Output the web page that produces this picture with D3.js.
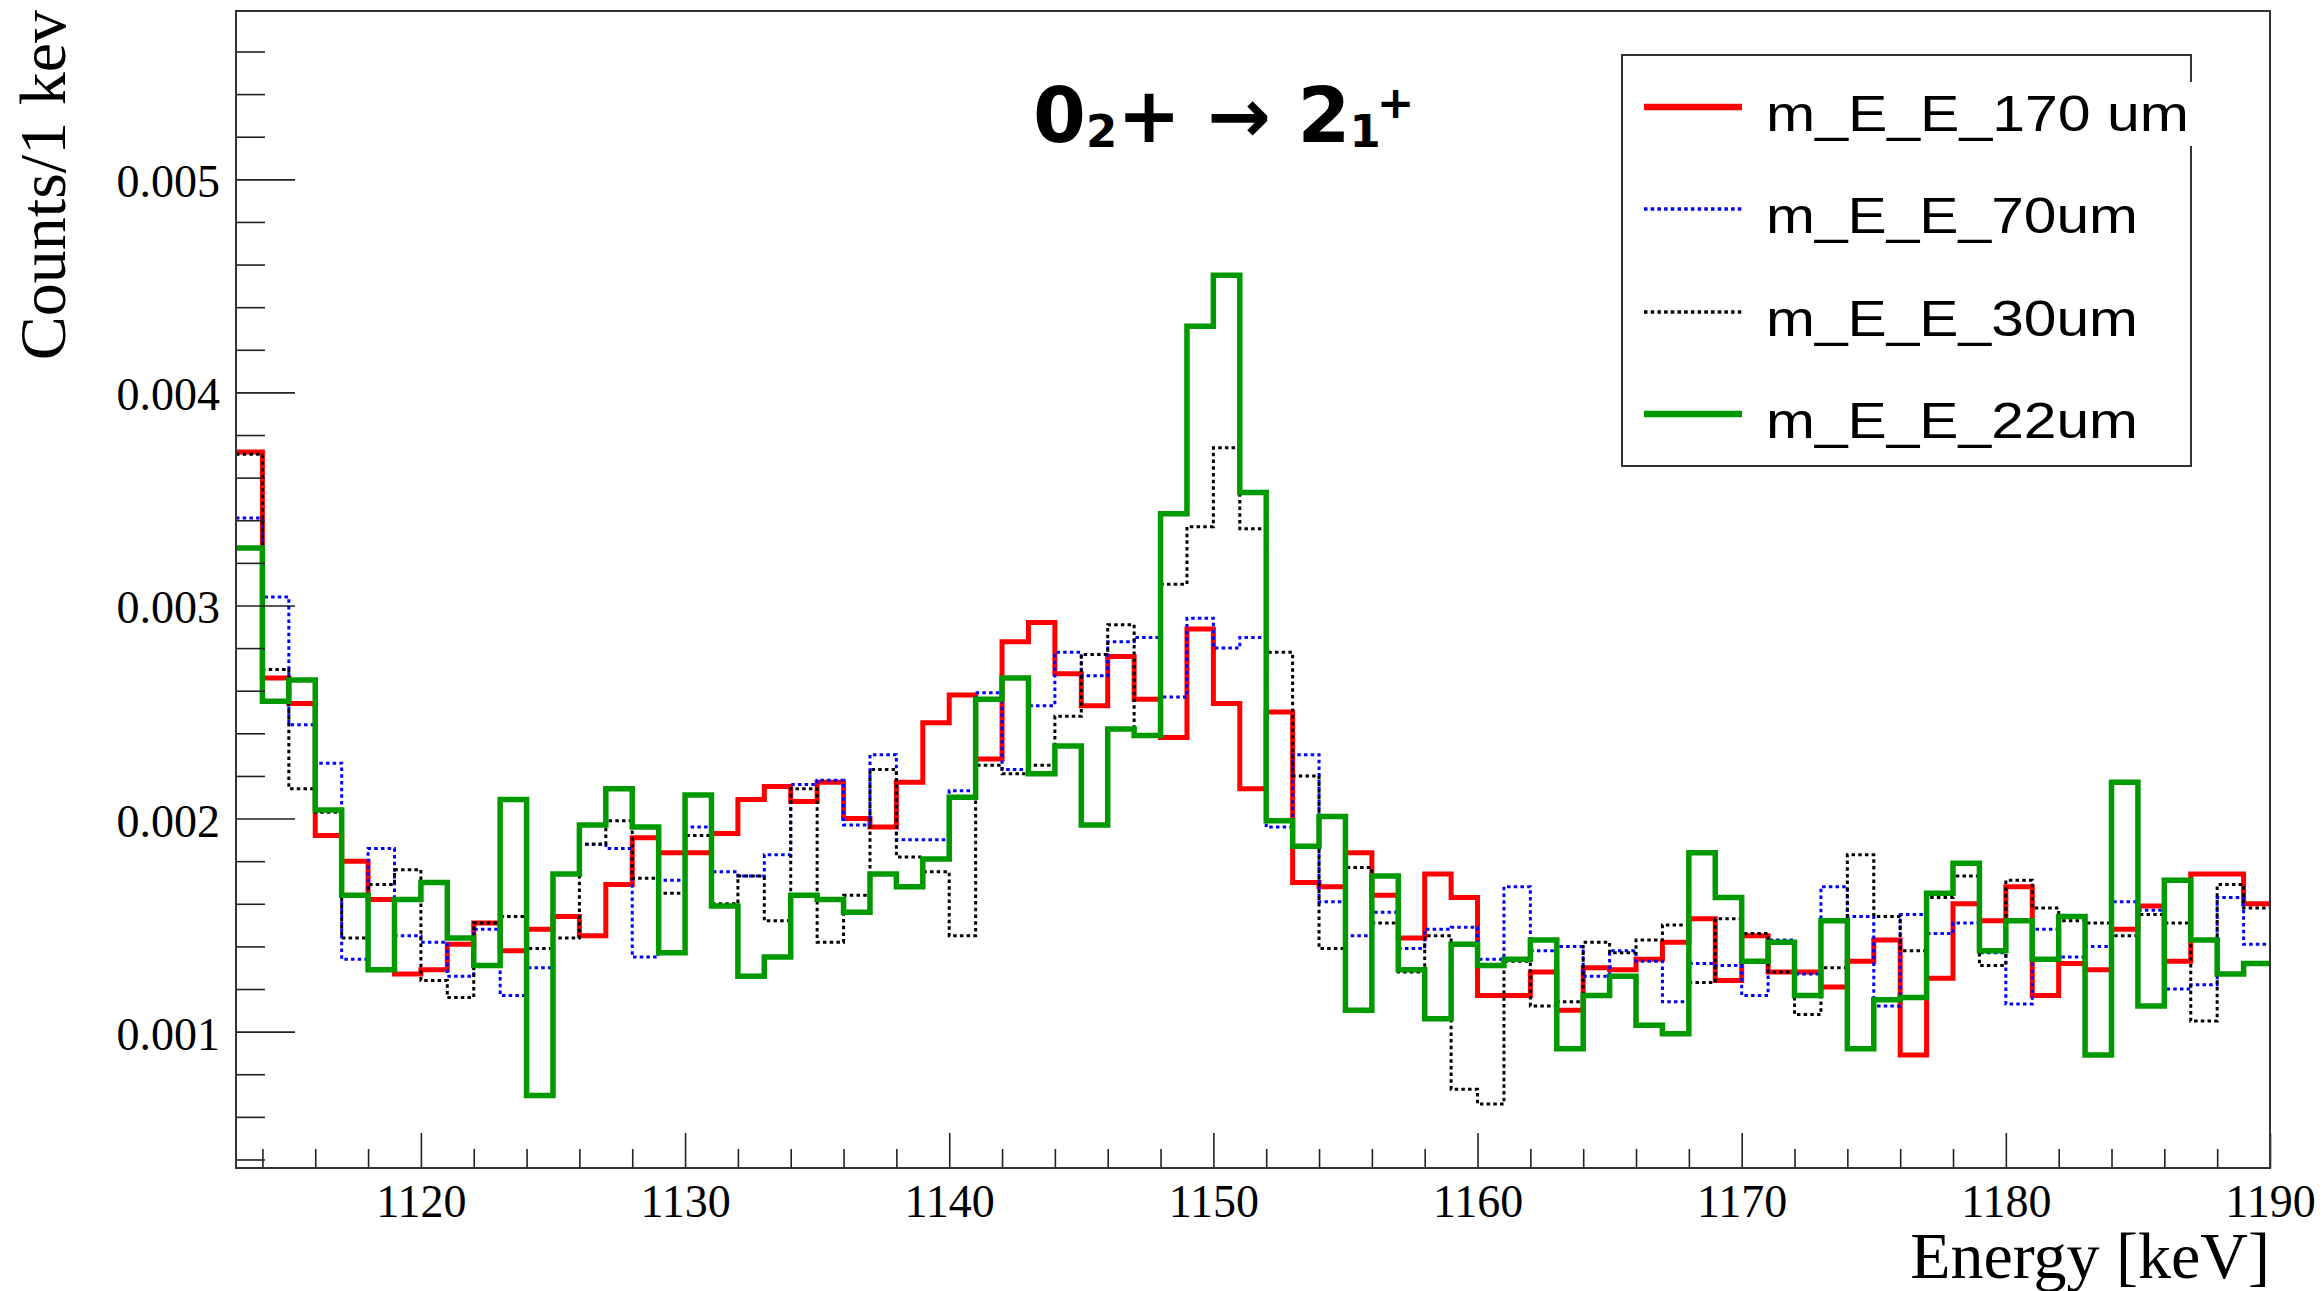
<!DOCTYPE html>
<html>
<head>
<meta charset="utf-8">
<script src="https://cdn.jsdelivr.net/npm/d3@7"></script>
<style>
  html, body { margin: 0; padding: 0; background: #fff; }
  svg { display: block; }
</style>
</head>
<body>
<svg id="chart" width="2324" height="1291"></svg>
<script>
// Energy window of the spectrum, 1 keV bins starting at 1113 keV
const energyRange = [1113, 1190];
// Bin contents in units of 1e-3 counts per keV, one value per bin (1113 ... 1189)
const valueUnit = 1e-3;

const counts170um = [
  3.72, 2.66, 2.54, 1.92, 1.80, 1.62, 1.27, 1.29, 1.41, 1.51,
  1.38, 1.48, 1.54, 1.45, 1.69, 1.91, 1.84, 1.84, 1.93, 2.09,
  2.15, 2.08, 2.17, 2.00, 1.96, 2.17, 2.45, 2.58, 2.28, 2.83,
  2.92, 2.68, 2.53, 2.76, 2.56, 2.38, 2.89, 2.54, 2.14, 2.50,
  1.70, 1.68, 1.84, 1.64, 1.44, 1.74, 1.63, 1.17, 1.17, 1.28,
  1.10, 1.30, 1.29, 1.34, 1.42, 1.53, 1.24, 1.45, 1.28, 1.28,
  1.21, 1.33, 1.43, 0.89, 1.25, 1.60, 1.52, 1.68, 1.17, 1.32,
  1.29, 1.48, 1.59, 1.33, 1.74, 1.74, 1.60
];

const counts70um = [
  3.41, 3.04, 2.44, 2.26, 1.34, 1.86, 1.45, 1.42, 1.26, 1.48,
  1.17, 1.30, 1.74, 1.88, 1.86, 1.35, 1.71, 1.96, 1.75, 1.73,
  1.83, 2.16, 2.18, 1.97, 2.30, 1.90, 1.90, 2.13, 2.59, 2.23,
  2.53, 2.78, 2.67, 2.83, 2.85, 2.57, 2.94, 2.80, 2.85, 1.96,
  2.30, 1.61, 1.45, 1.56, 1.39, 1.48, 1.49, 1.34, 1.68, 1.38,
  1.40, 1.26, 1.38, 1.33, 1.14, 1.32, 1.31, 1.17, 1.43, 1.27,
  1.68, 1.54, 1.12, 1.55, 1.46, 1.51, 1.37, 1.13, 1.48, 1.35,
  1.40, 1.61, 1.57, 1.20, 1.22, 1.63, 1.41
];

const counts30um = [
  3.71, 2.70, 2.14, 2.03, 1.44, 1.69, 1.76, 1.24, 1.16, 1.51,
  1.54, 1.39, 1.44, 1.88, 1.99, 1.72, 1.65, 1.92, 1.60, 1.73,
  1.52, 2.14, 1.42, 1.64, 2.23, 1.82, 1.75, 1.45, 2.25, 2.21,
  2.25, 2.48, 2.77, 2.91, 2.39, 3.10, 3.37, 3.74, 3.36, 2.78,
  2.20, 1.39, 1.77, 1.51, 1.28, 1.45, 0.73, 0.66, 1.33, 1.12,
  1.14, 1.42, 1.37, 1.43, 1.50, 1.23, 1.53, 1.46, 1.28, 1.08,
  1.30, 1.83, 1.54, 1.38, 1.63, 1.73, 1.31, 1.71, 1.58, 1.52,
  1.51, 1.45, 1.55, 1.51, 1.05, 1.69, 1.58
];

const counts22um = [
  3.27, 2.55, 2.65, 2.04, 1.64, 1.29, 1.62, 1.70, 1.44, 1.31,
  2.09, 0.70, 1.74, 1.97, 2.14, 1.96, 1.37, 2.11, 1.59, 1.26,
  1.35, 1.64, 1.62, 1.56, 1.74, 1.68, 1.81, 2.10, 2.56, 2.66,
  2.21, 2.34, 1.97, 2.42, 2.39, 3.43, 4.31, 4.55, 3.53, 1.99,
  1.87, 2.01, 1.10, 1.73, 1.29, 1.06, 1.41, 1.31, 1.34, 1.43,
  0.92, 1.17, 1.26, 1.03, 0.99, 1.84, 1.63, 1.33, 1.42, 1.17,
  1.52, 0.92, 1.15, 1.16, 1.65, 1.79, 1.38, 1.52, 1.34, 1.54,
  0.89, 2.17, 1.12, 1.71, 1.43, 1.27, 1.32
];

const seriesNames = ["m_E_E_170 um", "m_E_E_70um", "m_E_E_30um", "m_E_E_22um"];

const xTickValues = [1120, 1130, 1140, 1150, 1160, 1170, 1180, 1190];
const xTickLabels = ["1120", "1130", "1140", "1150", "1160", "1170", "1180", "1190"];
const yTickValues = [0.001, 0.002, 0.003, 0.004, 0.005];
const yTickLabels = ["0.001", "0.002", "0.003", "0.004", "0.005"];

// ---------------------------------------------------------------------------
const series = [
  { name: seriesNames[0], values: counts170um, color: "#ff0000", width: 5,   dash: null },
  { name: seriesNames[1], values: counts70um,  color: "#0000ff", width: 3,   dash: "3.5,3.2" },
  { name: seriesNames[2], values: counts30um,  color: "#000000", width: 3,   dash: "3.5,3.2" },
  { name: seriesNames[3], values: counts22um,  color: "#009900", width: 5.5, dash: null }
];

const frame = { left: 236, right: 2270, top: 11, bottom: 1168 };
const serif = "'Liberation Serif', 'Times New Roman', serif";
const sans = "'Liberation Sans', Arial, sans-serif";

const svg = d3.select("#chart");

const x = d3.scaleLinear().domain(energyRange).range([frame.left, frame.right]);
const y = d3.scaleLinear().domain([0.00036, 0.00579]).range([frame.bottom, frame.top]);

svg.append("rect").attr("width", 2324).attr("height", 1291).attr("fill", "#fff");

svg.append("defs").append("clipPath").attr("id", "plotClip")
  .append("rect")
  .attr("x", frame.left).attr("y", frame.top)
  .attr("width", frame.right - frame.left).attr("height", frame.bottom - frame.top);

// Histograms drawn as step outlines
const step = d3.line()
  .x(d => x(d[0]))
  .y(d => y(d[1]))
  .curve(d3.curveStepAfter);

const plot = svg.append("g").attr("clip-path", "url(#plotClip)");
series.forEach(s => {
  const pts = s.values.map((v, i) => [energyRange[0] + i, v * valueUnit]);
  pts.push([energyRange[1], s.values[s.values.length - 1] * valueUnit]);
  plot.append("path")
    .attr("d", step(pts))
    .attr("fill", "none")
    .attr("stroke", s.color)
    .attr("stroke-width", s.width)
    .attr("stroke-dasharray", s.dash)
    .attr("stroke-linejoin", "miter")
    .attr("stroke-linecap", "butt");
});

// Axes (ticks point into the frame)
const axisColor = "#222";
const xMinor = d3.range(energyRange[0] + 1, energyRange[1], 2).filter(v => v % 10 !== 0);
const yMinor = d3.range(4, 58, 2).map(v => v / 10000).filter(v => Math.round(v * 10000) % 10 !== 0);

const xAxisMajor = d3.axisBottom(x)
  .tickValues(xTickValues)
  .tickFormat((d, i) => xTickLabels[i])
  .tickSizeInner(-35).tickSizeOuter(0).tickPadding(16);
const xAxisMinor = d3.axisBottom(x)
  .tickValues(xMinor).tickFormat("")
  .tickSizeInner(-19).tickSizeOuter(0);

const yAxisMajor = d3.axisLeft(y)
  .tickValues(yTickValues)
  .tickFormat((d, i) => yTickLabels[i])
  .tickSizeInner(-59).tickSizeOuter(0).tickPadding(16);
const yAxisMinor = d3.axisLeft(y)
  .tickValues(yMinor).tickFormat("")
  .tickSizeInner(-29).tickSizeOuter(0);

function styleAxis(g) {
  g.select(".domain").remove();
  g.selectAll(".tick line").attr("stroke", axisColor).attr("stroke-width", 1.6);
  g.selectAll("text").attr("fill", "#000").style("font-family", serif).style("font-size", "46px");
}

svg.append("g").attr("transform", `translate(0,${frame.bottom})`).call(xAxisMinor).call(styleAxis);
svg.append("g").attr("transform", `translate(0,${frame.bottom})`).call(xAxisMajor).call(styleAxis);
svg.append("g").attr("transform", `translate(${frame.left},0)`).call(yAxisMinor).call(styleAxis);
const yg = svg.append("g").attr("transform", `translate(${frame.left},0)`).call(yAxisMajor).call(styleAxis);
yg.selectAll("text").attr("dy", "0.38em");

// Frame
svg.append("rect")
  .attr("x", frame.left).attr("y", frame.top)
  .attr("width", frame.right - frame.left).attr("height", frame.bottom - frame.top)
  .attr("fill", "none").attr("stroke", "#333").attr("stroke-width", 2);

// Axis titles
svg.append("text")
  .attr("x", frame.right).attr("y", 1278)
  .attr("text-anchor", "end")
  .style("font-family", serif).style("font-size", "66px")
  .text("Energy [keV]");

svg.append("text")
  .attr("transform", "translate(65,10) rotate(-90)")
  .attr("text-anchor", "end")
  .style("font-family", serif).style("font-size", "66px")
  .text("Counts/1 kev");

// Transition label
const title = svg.append("text")
  .attr("x", 1033).attr("y", 142)
  .style("font-family", "'DejaVu Sans', sans-serif")
  .style("font-weight", "bold")
  .style("font-size", "76px");
title.append("tspan").text("0");
title.append("tspan").attr("dy", 5).style("font-size", "45px").text("2");
title.append("tspan").attr("dy", -5).text("+ \u2192 2");
title.append("tspan").attr("dy", 5).attr("dx", -1).style("font-size", "45px").text("1");
title.append("tspan").attr("dy", -29).attr("dx", -4).style("font-size", "45px").text("+");

// Legend
const legend = { x: 1622, y: 55, w: 569, h: 411, rowY: [107, 209, 312, 414], textX: 1766,
                 lineX: [1644, 1742], textW: [423, 372, 372, 372] };
svg.append("rect")
  .attr("x", legend.x).attr("y", legend.y).attr("width", legend.w).attr("height", legend.h)
  .attr("fill", "#fff").attr("stroke", "#333").attr("stroke-width", 2);

series.forEach((s, i) => {
  const ry = legend.rowY[i];
  svg.append("line")
    .attr("x1", legend.lineX[0]).attr("x2", legend.lineX[1])
    .attr("y1", ry).attr("y2", ry)
    .attr("stroke", s.color)
    .attr("stroke-width", s.dash ? 3.5 : 6.5)
    .attr("stroke-dasharray", s.dash);
  const t = svg.append("text")
    .attr("x", legend.textX).attr("y", ry + 24)
    .attr("textLength", legend.textW[i])
    .attr("lengthAdjust", "spacingAndGlyphs")
    .style("font-family", sans).style("font-size", "50px")
    .attr("fill", "#000")
    .text(s.name);
  if (i === 0) {
    // the long first label runs over the box edge; give it a white backing
    const bb = t.node().getBBox();
    svg.insert("rect", () => t.node())
      .attr("x", bb.x).attr("y", bb.y - 4)
      .attr("width", bb.width + 4).attr("height", bb.height + 8)
      .attr("fill", "#fff");
  }
});
</script>
</body>
</html>
